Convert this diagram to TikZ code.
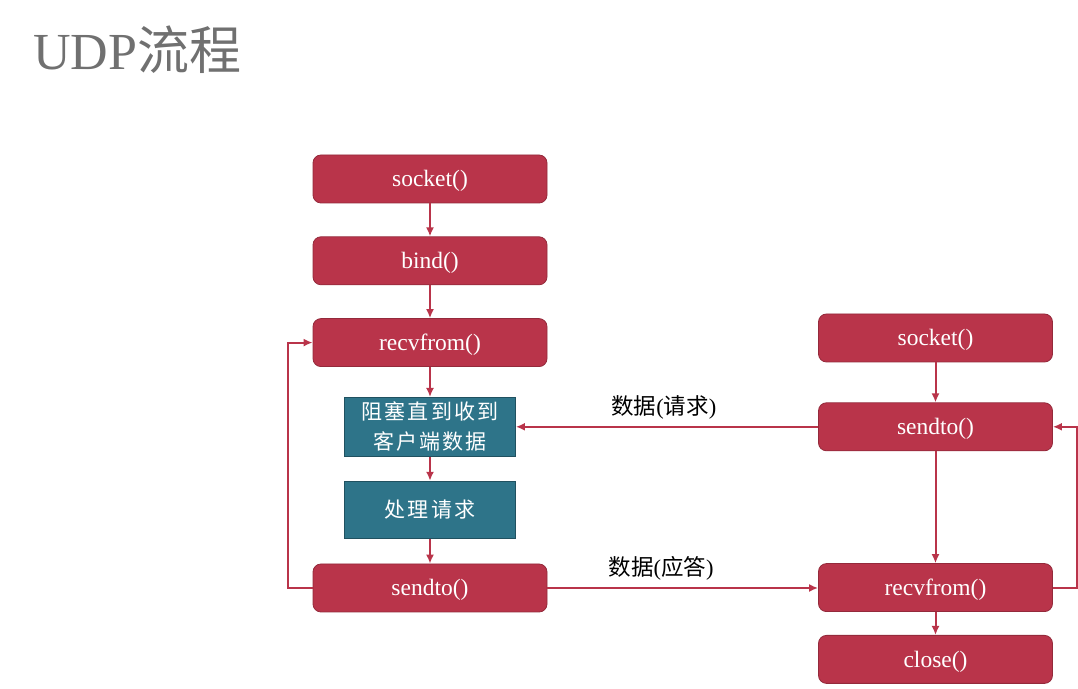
\documentclass[tikz,border=0pt]{standalone}
\usepackage{fontspec}
\setmainfont{Liberation Serif}
\newfontfamily\cjk{Noto Sans CJK SC}
\newfontfamily\cjkwide{Noto Sans CJK SC}[LetterSpace=10]
\usetikzlibrary{positioning,arrows.meta}
\definecolor{callred}{HTML}{B9344A}
\definecolor{waitteal}{HTML}{2E7489}
\definecolor{titlegray}{HTML}{707070}
\tikzset{
  call/.style={draw=callred!80!black, fill=callred, rounded corners=4pt,
    minimum width=117pt, minimum height=24pt, text=white,
    text height=10pt, text depth=2pt,
    font=\fontsize{11.75}{14}\selectfont},
  wait/.style={draw=waitteal!70!black, fill=waitteal, minimum width=85.5pt,
    inner ysep=0.5pt, text=white, align=center,
    font=\cjkwide\fontsize{10.5}{15}\selectfont},
  flow/.style={draw=callred, line width=1pt, -{Latex[length=4.5pt,width=4pt]}},
  msg/.style={font=\fontsize{11.25}{13}\selectfont, text=black}
}
\begin{document}
\begin{tikzpicture}[x=0.5pt,y=-0.5pt, node distance=16.5pt]
  \useasboundingbox (0,0) rectangle (1078,689);
  \node[anchor=base west, inner sep=0, text=titlegray,
    font=\fontsize{26}{30}\selectfont] (title) at (33,70) {UDP{\cjk 流程}};

  % server
  \node[call] (ssock) at (430,179) {socket()};
  \node[call, below=of ssock] (sbind) {bind()};
  \node[call, below=of sbind] (srecv) {recvfrom()};
  \node[wait, below=15pt of srecv, minimum height=29.5pt] (sblock) {阻塞直到收到\\客户端数据};
  \node[wait, below=12pt of sblock, minimum height=28.5pt] (sproc) {处理请求};
  \node[call, below=12.5pt of sproc] (ssend) {sendto()};

  % client
  \node[call] (csock) at (935.5,338) {socket()};
  \node[call, below=20pt of csock] (csend) {sendto()};
  \node[call, below=56pt of csend] (crecv) {recvfrom()};
  \node[call, below=11.5pt of crecv] (cclose) {close()};

  \draw[flow] (ssock) -- (sbind);
  \draw[flow] (sbind) -- (srecv);
  \draw[flow] (srecv) -- (sblock);
  \draw[flow] (sblock) -- (sproc);
  \draw[flow] (sproc) -- (ssend);
  \draw[flow] (ssend.west) -- ++(-25,0) |- (srecv.west);

  \draw[flow] (csock) -- (csend);
  \draw[flow] (csend) -- (crecv);
  \draw[flow] (crecv) -- (cclose);
  \draw[flow] (crecv.east) -- ++(24,0) |- (csend.east);

  \draw[flow] (csend.west) -- (csend.west -| sblock.east)
    node[msg, pos=.51, above=0pt] (req) {{\cjk 数据}({\cjk 请求})};
  \draw[flow] (ssend.east) -- (ssend.east -| crecv.west)
    node[msg, pos=.42, above=0pt] (ans) {{\cjk 数据}({\cjk 应答})};
\end{tikzpicture}
\end{document}
